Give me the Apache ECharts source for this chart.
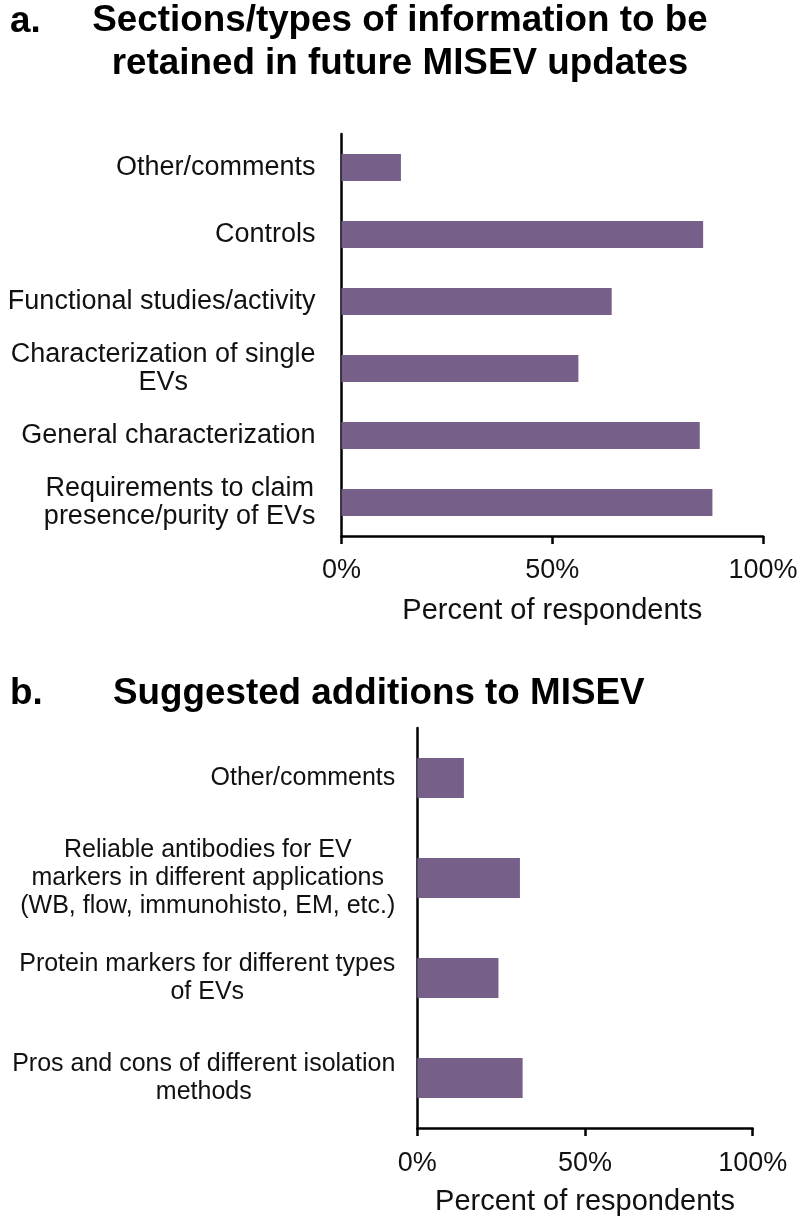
<!DOCTYPE html>
<html><head><meta charset="utf-8">
<script src="https://cdn.jsdelivr.net/npm/echarts@6/dist/echarts.min.js"></script>
<style>html,body{margin:0;padding:0;background:#fff}#c{width:800px;height:1223px}</style>
</head><body><div id="c"></div>
<script>
const panelA = 'a.';
const panelB = 'b.';
const titleA = ['Sections/types of information to be', 'retained in future MISEV updates'];
const titleB = 'Suggested additions to MISEV';
const categoriesA = ['Requirements to claim\npresence/purity of EVs', 'General characterization', 'Characterization of single\nEVs', 'Functional studies/activity', 'Controls', 'Other/comments'];
const valuesA = [88.0, 85.0, 56.2, 64.1, 85.8, 14.1];
const categoriesB = ['Pros and cons of different isolation\nmethods', 'Protein markers for different types\nof EVs', 'Reliable antibodies for EV\nmarkers in different applications\n(WB, flow, immunohisto, EM, etc.)', 'Other/comments'];
const valuesB = [31.4, 24.2, 30.6, 13.9];
const axisMin = 0, axisMax = 100, axisStep = 50;
const axisName = 'Percent of respondents';

const FONT = 'Liberation Sans, Arial, sans-serif';
const INK = '#111111';
const BAR = '#76608A';

function centeredLines(v) {
  return v.split('\n').map(l => '{c|' + l + '}').join('\n');
}

const chart = echarts.init(document.getElementById('c'), null, {renderer: 'canvas'});

function xAxisCfg(gridIndex, labelMargin, nameGap) {
  return {
    type: 'value', gridIndex, min: axisMin, max: axisMax, interval: axisStep,
    name: axisName, nameLocation: 'middle', nameGap,
    nameTextStyle: {fontFamily: FONT, fontSize: 29, color: INK},
    axisLine: {show: true, lineStyle: {color: '#000', width: 2.5}},
    axisTick: {show: true, length: 8, lineStyle: {color: '#000', width: 2.5}},
    axisLabel: {formatter: v => v + '%', fontFamily: FONT, fontSize: 27, color: INK, margin: labelMargin},
    splitLine: {show: false}
  };
}
function yAxisCfg(gridIndex, cats, fontSize, margin) {
  return {
    type: 'category', gridIndex, data: cats,
    axisLine: {show: true, lineStyle: {color: '#000', width: 2.5}},
    axisTick: {show: false},
    axisLabel: {
      formatter: centeredLines, margin, interval: 0,
      fontFamily: FONT, fontSize, color: INK,
      rich: {c: {align: 'center', fontFamily: FONT, fontSize, color: INK, lineHeight: 28}}
    }
  };
}

chart.setOption({
  animation: false,
  backgroundColor: '#ffffff',
  grid: [
    {left: 341.5, right: 37, top: 134, height: 402, outerBoundsMode: 'none', containLabel: false},
    {left: 417.3, right: 47.3, top: 728, height: 400, outerBoundsMode: 'none', containLabel: false}
  ],
  xAxis: [xAxisCfg(0, 21, 60), xAxisCfg(1, 22, 59)],
  yAxis: [yAxisCfg(0, categoriesA, 27, 26), yAxisCfg(1, categoriesB, 25, 22)],
  series: [
    {type: 'bar', xAxisIndex: 0, yAxisIndex: 0, data: valuesA, barWidth: 27, itemStyle: {color: BAR}, silent: true},
    {type: 'bar', xAxisIndex: 1, yAxisIndex: 1, data: valuesB, barWidth: 40, itemStyle: {color: BAR}, silent: true}
  ],
  graphic: [
    {type: 'text', left: 10, top: 3, style: {text: panelA, font: 'bold 36.8px ' + FONT, fill: '#000'}},
    {type: 'text', x: 400, y: 21, style: {text: titleA[0], font: 'bold 36.8px ' + FONT, fill: '#000', align: 'center', verticalAlign: 'middle'}},
    {type: 'text', x: 400, y: 64, style: {text: titleA[1], font: 'bold 36.8px ' + FONT, fill: '#000', align: 'center', verticalAlign: 'middle'}},
    {type: 'text', x: 10, y: 694, style: {text: panelB, font: 'bold 36.8px ' + FONT, fill: '#000', align: 'left', verticalAlign: 'middle'}},
    {type: 'text', x: 113, y: 694, style: {text: titleB, font: 'bold 36.8px ' + FONT, fill: '#000', align: 'left', verticalAlign: 'middle'}}
  ]
});
</script>
</body></html>
